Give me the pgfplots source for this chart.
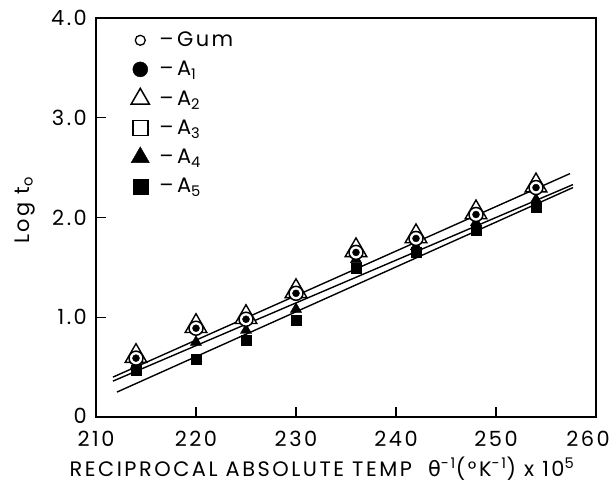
\documentclass[border=0pt]{standalone}
\usepackage{pgfplots}
\pgfplotsset{compat=1.18}
\usepackage{fontspec}
\setmainfont{Poppins}[LetterSpace=12]
\newfontfamily\dv{DejaVu Sans}
\begin{document}
\begin{tikzpicture}
\useasboundingbox (-96bp,-66bp) rectangle (520bp,417bp);
\begin{axis}[
  scale only axis, width=500bp, height=399bp,
  xmin=210, xmax=260, ymin=0, ymax=4,
  xtick={210,220,...,260}, ytick={0,1,2,3,4},
  yticklabels={\raisebox{2bp}{0}\hspace{8bp},1.0,2.0,3.0,4.0},
  xticklabels={210,220,230,240,250,\hspace*{-16bp}260},
  tick align=inside, xtick pos=bottom, ytick pos=left,
  major tick length=10bp,
  axis line style={line width=1.6bp},
  every tick/.style={line width=1.3bp, black},
  tick label style={font=\fontsize{21}{23}\selectfont},
  xticklabel style={anchor=base, yshift=-29bp},
  yticklabel style={anchor=east, inner sep=0pt, xshift=-9bp},
  xlabel style={at={(axis description cs:0.452,0)}, anchor=base, yshift=-59bp, font=\fontsize{21}{23}\selectfont},
  ylabel style={at={(axis description cs:-0.142,0.518)}, anchor=center, font=\fontsize{21}{23}\selectfont},
  xlabel={RECIPROCAL ABSOLUTE TEMP \ {\dv θ}\textsuperscript{-1}(°K\textsuperscript{-1}) x 10\textsuperscript{5}},
  ylabel={Log t\textsubscript{o}},
  legend style={at={(axis cs:213.2,3.90)}, anchor=north west, draw=none, fill=none,
    font=\fontsize{21}{23}\selectfont, row sep=9bp},
  legend cell align=left,
]
% fitted lines
\addplot[black, line width=1.4bp, forget plot] coordinates {(211.7,0.40) (257.4,2.44)};
\addplot[black, line width=1.4bp, forget plot] coordinates {(211.7,0.36) (257.7,2.33)};
\addplot[black, line width=1.4bp, forget plot] coordinates {(212.1,0.25) (257.7,2.30)};
% A5
\addplot[only marks, mark=square*, mark size=5bp, black, forget plot] coordinates {
(214,0.47) (220,0.58) (225,0.77) (230,0.97) (236,1.49) (242,1.65) (248,1.87) (254,2.10)};
% A4
\addplot[only marks, mark=triangle*, mark size=6.5bp, black, forget plot] coordinates {
(214,0.52) (220,0.75) (225,0.87) (230,1.08) (236,1.58) (242,1.71) (248,1.95) (254,2.18)};
% A2
\addplot[only marks, mark=triangle*, mark size=12.5bp, line width=1.4bp, mark options={fill=white, draw=black}, forget plot] coordinates {
(214,0.61) (220,0.91) (225,1.00) (230,1.26) (236,1.67) (242,1.81) (248,2.05) (254,2.32)};
% A3
\addplot[only marks, mark=square*, mark size=4bp, mark options={fill=white, draw=black}, forget plot] coordinates {
(214,0.59) (220,0.89) (225,0.98) (230,1.24) (236,1.65) (242,1.79) (248,2.03) (254,2.30)};
% Gum
\addplot[only marks, mark=*, mark size=7bp, line width=1.5bp, mark options={fill=white, draw=black}, forget plot] coordinates {
(214,0.59) (220,0.89) (225,0.98) (230,1.24) (236,1.65) (242,1.79) (248,2.03) (254,2.30)};
% A1
\addplot[only marks, mark=*, mark size=3.5bp, black, forget plot] coordinates {
(214,0.59) (220,0.89) (225,0.98) (230,1.24) (236,1.65) (242,1.79) (248,2.03) (254,2.30)};
% legend
\addlegendimage{only marks, mark=o, mark size=5bp, black, line width=1.3bp}
\addlegendentry{\raisebox{0pt}[\height][\dimexpr\depth+9bp\relax]{\hspace{8bp}\textendash\,Gum}}
\addlegendimage{only marks, mark=*, mark size=7.5bp, black}
\addlegendentry{\hspace{8bp}\textendash\,A\textsubscript{1}}
\addlegendimage{only marks, mark=triangle, mark size=10.5bp, black, line width=1.5bp}
\addlegendentry{\hspace{8bp}\textendash\,A\textsubscript{2}}
\addlegendimage{only marks, mark=square, mark size=7.5bp, black, line width=1.6bp}
\addlegendentry{\hspace{8bp}\textendash\,A\textsubscript{3}}
\addlegendimage{only marks, mark=triangle*, mark size=10.5bp, black}
\addlegendentry{\hspace{8bp}\textendash\,A\textsubscript{4}}
\addlegendimage{only marks, mark=square*, mark size=7.5bp, black}
\addlegendentry{\hspace{8bp}\textendash\,A\textsubscript{5}}
\end{axis}
\end{tikzpicture}
\end{document}
